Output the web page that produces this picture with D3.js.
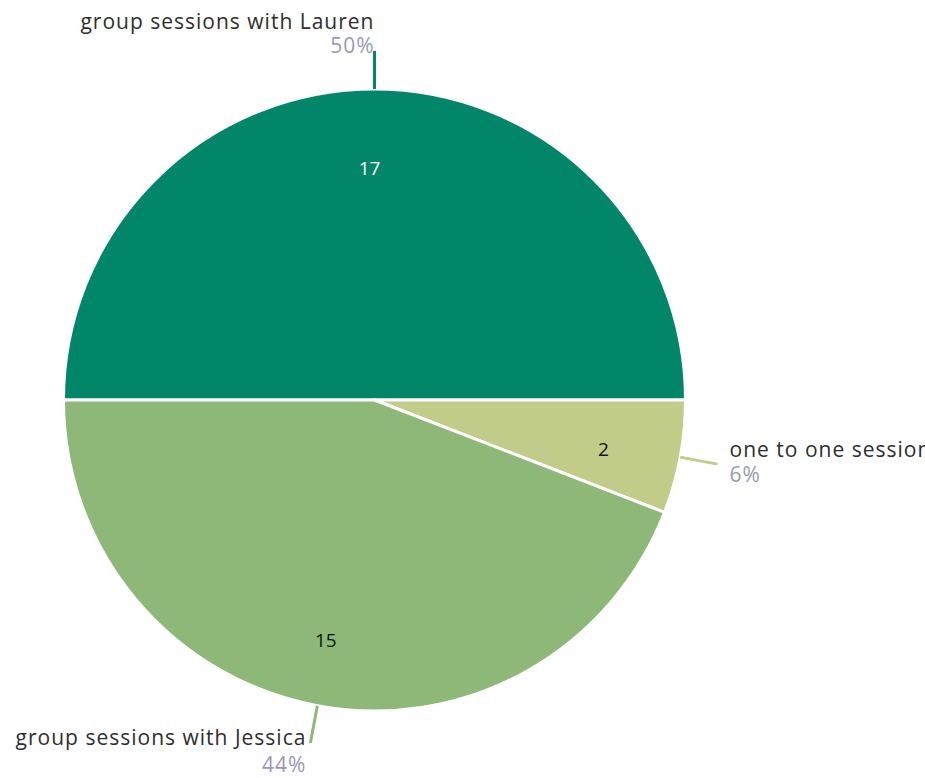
<!DOCTYPE html>
<html>
<head>
<meta charset="utf-8">
<script src="https://cdn.jsdelivr.net/npm/d3@7"></script>
<style>
  html, body { margin: 0; padding: 0; background: #fff; }
  svg { display: block; overflow: hidden; }
  text { font-family: "Open Sans", Lato, sans-serif; }
</style>
</head>
<body>
<svg id="chart" width="925" height="778"></svg>
<script>
const categories = ["group sessions with Lauren", "one to one sessions", "group sessions with Jessica"];
const values = [17, 2, 15];
const colors = ["#02866a", "#c0cc88", "#8db878"];
const valueTextColors = ["#ffffff", "#111111", "#111111"];

const width = 925, height = 778;
const cx = 374.5, cy = 400, radius = 311;

const svg = d3.select("#chart");
const g = svg.append("g").attr("transform", `translate(${cx},${cy})`);

const total = d3.sum(values);
const data = categories.map((c, i) => ({ name: c, value: values[i], color: colors[i], tc: valueTextColors[i] }));

const pie = d3.pie().value(d => d.value).sort(null).startAngle(-Math.PI / 2).endAngle(3 * Math.PI / 2);
const arcs = pie(data);

const arc = d3.arc().innerRadius(0).outerRadius(radius);
const labelArc = d3.arc().innerRadius(238).outerRadius(238);

g.selectAll("path.slice").data(arcs).join("path")
  .attr("class", "slice")
  .attr("d", arc)
  .attr("fill", d => d.data.color)
  .attr("stroke", "#ffffff")
  .attr("stroke-width", 3)
  .attr("stroke-linejoin", "round");

g.selectAll("text.val").data(arcs).join("text")
  .attr("class", "val")
  .attr("transform", d => { const [x, y] = labelArc.centroid(d); return `translate(${x - 5},${y + 6})`; })
  .attr("text-anchor", "middle")
  .attr("dy", "0.35em")
  .attr("font-size", 19)
  .attr("fill", d => d.data.tc)
  .text(d => d.data.value);

const pct = d3.format(".0%");
const lineLen = 38;

arcs.forEach(d => {
  const a = (d.startAngle + d.endAngle) / 2;
  const sx = radius * Math.sin(a), sy = -radius * Math.cos(a);
  const ex = (radius + lineLen) * Math.sin(a), ey = -(radius + lineLen) * Math.cos(a);
  g.append("line")
    .attr("x1", sx).attr("y1", sy).attr("x2", ex).attr("y2", ey)
    .attr("stroke", d.data.color).attr("stroke-width", 3);

  let anchor, tx, nameY, pctY;
  if (Math.cos(a) > 0.7) {           // top
    anchor = "end"; tx = ex; nameY = ey - 22; pctY = ey + 2;
  } else if (Math.sin(a) > 0) {      // right side
    anchor = "start"; tx = ex + 12; nameY = ey - 7; pctY = ey + 18;
  } else {                           // left / bottom-left
    anchor = "end"; tx = ex - 4; nameY = ey + 2; pctY = ey + 29;
  }
  g.append("text")
    .attr("x", tx).attr("y", nameY)
    .attr("text-anchor", anchor)
    .attr("font-size", 21)
    .attr("letter-spacing", 1.0)
    .attr("fill", "#2e2e2e")
    .text(d.data.name);
  g.append("text")
    .attr("x", tx).attr("y", pctY)
    .attr("text-anchor", anchor)
    .attr("font-size", 21)
    .attr("letter-spacing", 1.0)
    .attr("fill", "#9999b3")
    .text(pct(d.data.value / total));
});
</script>
</body>
</html>
